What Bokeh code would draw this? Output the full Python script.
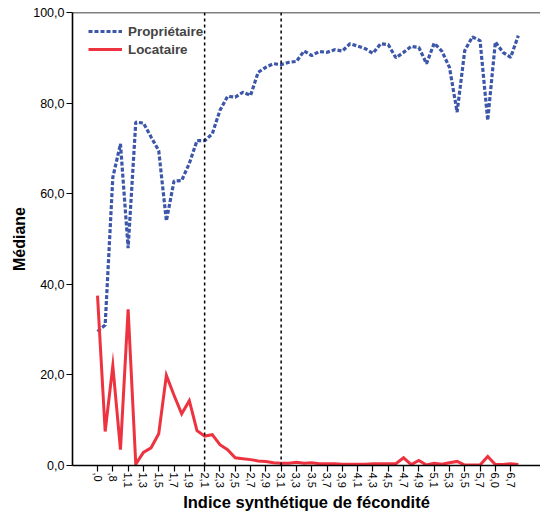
import math
from bokeh.plotting import figure
from bokeh.models import Span, FixedTicker, Legend, LegendItem, Range1d
from bokeh.embed import file_html
from bokeh.resources import INLINE

# Categories of the "Indice synthétique de fécondité" (every other one is labelled)
categories = [",0", ",5", ",8", "1,0",
              "1,1", "1,2", "1,3", "1,4", "1,5", "1,6", "1,7", "1,8", "1,9", "2,0",
              "2,1", "2,2", "2,3", "2,4", "2,5", "2,6", "2,7", "2,8", "2,9", "3,0",
              "3,1", "3,2", "3,3", "3,4", "3,5", "3,6", "3,7", "3,8", "3,9", "4,0",
              "4,1", "4,2", "4,3", "4,4", "4,5", "4,6", "4,7", "4,8", "4,9", "5,0",
              "5,1", "5,2", "5,3", "5,4", "5,5", "5,6", "5,7",
              "5,9", "6,0", "6,3", "6,7", "7,0"]

proprietaire = [29.6, 31.0, 63.6, 71.0, 48.0, 75.8, 75.6, 72.5, 69.5, 54.0,
                62.8, 62.9, 66.7, 71.7, 71.7, 73.2, 78.4, 81.5, 81.3, 82.4,
                81.7, 86.8, 87.9, 88.7, 88.5, 89.0, 89.2, 91.5, 90.5, 91.4,
                91.2, 91.8, 91.5, 93.1, 92.6, 92.0, 91.0, 93.1, 92.9, 90.0,
                91.2, 92.5, 92.3, 88.7, 93.2, 91.5, 87.9, 78.0, 91.6, 94.6,
                93.8, 76.2, 93.5, 91.2, 90.1, 94.9]

locataire = [37.5, 7.5, 22.0, 3.5, 34.5, 0.3, 2.9, 3.9, 7.0, 19.9,
             15.5, 11.4, 14.3, 7.7, 6.5, 6.8, 4.6, 3.5, 1.7, 1.5,
             1.3, 1.0, 0.9, 0.6, 0.5, 0.5, 0.7, 0.5, 0.6, 0.4,
             0.4, 0.4, 0.3, 0.3, 0.3, 0.3, 0.4, 0.4, 0.4, 0.4,
             1.7, 0.2, 1.1, 0.1, 0.5, 0.3, 0.6, 0.9, 0.1, 0.1,
             0.1, 2.0, 0.2, 0.2, 0.4, 0.2]

reference_lines = ["2,1", "3,1"]

y_ticks = [0, 20, 40, 60, 80, 100]
y_tick_labels = ["0,0", "20,0", "40,0", "60,0", "80,0", "100,0"]

BLUE = "#3C56AA"
RED = "#EE3340"
FONT = "Liberation Sans"

xs = list(range(len(categories)))

p = figure(width=540, height=513, output_backend="svg", toolbar_location=None,
           x_range=Range1d(-3.27, 57.9), y_range=Range1d(0, 100),
           min_border_left=72, min_border_right=0, min_border_top=12,
           min_border_bottom=48)
p.outline_line_color = None
p.grid.visible = False
p.background_fill_color = "white"
p.border_fill_color = "white"

for lab in reference_lines:
    p.add_layout(Span(location=categories.index(lab), dimension="height",
                      line_color="black", line_width=1.5, line_dash="3 3"))
p.add_layout(Span(location=100, dimension="width", line_color="black", line_width=1.5))

r_blue = p.line(xs, proprietaire, line_color=BLUE, line_width=3.2, line_dash="4 2")
r_red = p.line(xs, locataire, line_color=RED, line_width=3, line_join="miter")

# x axis
p.xaxis.ticker = FixedTicker(ticks=xs[::2])
p.xaxis.major_label_overrides = {i: categories[i] for i in xs[::2]}
p.xaxis.major_label_orientation = -math.pi / 2
p.xaxis.axis_label = "Indice synthétique de fécondité"
# y axis
p.yaxis.ticker = FixedTicker(ticks=y_ticks)
p.yaxis.major_label_overrides = {t: l for t, l in zip(y_ticks, y_tick_labels)}
p.yaxis.axis_label = "Médiane"

for ax in (p.xaxis[0], p.yaxis[0]):
    ax.axis_line_color = "black"
    ax.axis_line_width = 1.6
    ax.major_tick_line_color = "black"
    ax.major_tick_line_width = 1.2
    ax.major_tick_out = 6
    ax.major_tick_in = 0
    ax.minor_tick_line_color = None
    ax.major_label_text_font = FONT
    ax.major_label_text_color = "black"
    ax.axis_label_text_font = FONT
    ax.axis_label_text_font_style = "bold"
    ax.axis_label_text_color = "black"
p.xaxis.major_label_text_font_size = "11px"
p.xaxis.major_label_standoff = 1
p.xaxis.axis_label_standoff = 2
p.xaxis.axis_label_text_font_size = "16.5px"
p.yaxis.major_label_text_font_size = "12.5px"
p.yaxis.major_label_standoff = 2
p.yaxis.axis_label_standoff = 2
p.yaxis.axis_label_text_font_size = "16px"

legend = Legend(items=[LegendItem(label="Propriétaire", renderers=[r_blue]),
                       LegendItem(label="Locataire", renderers=[r_red])],
                location=(16, 407), orientation="vertical")
legend.label_text_font = FONT
legend.label_text_font_style = "bold"
legend.label_text_font_size = "13.4px"
legend.glyph_width = 34
legend.glyph_height = 18
legend.label_height = 18
legend.spacing = 0
legend.label_standoff = 6
legend.padding = 0
legend.margin = 0
legend.border_line_color = None
legend.background_fill_alpha = 0
p.add_layout(legend)

open("out.html", "w").write(file_html(p, INLINE))
